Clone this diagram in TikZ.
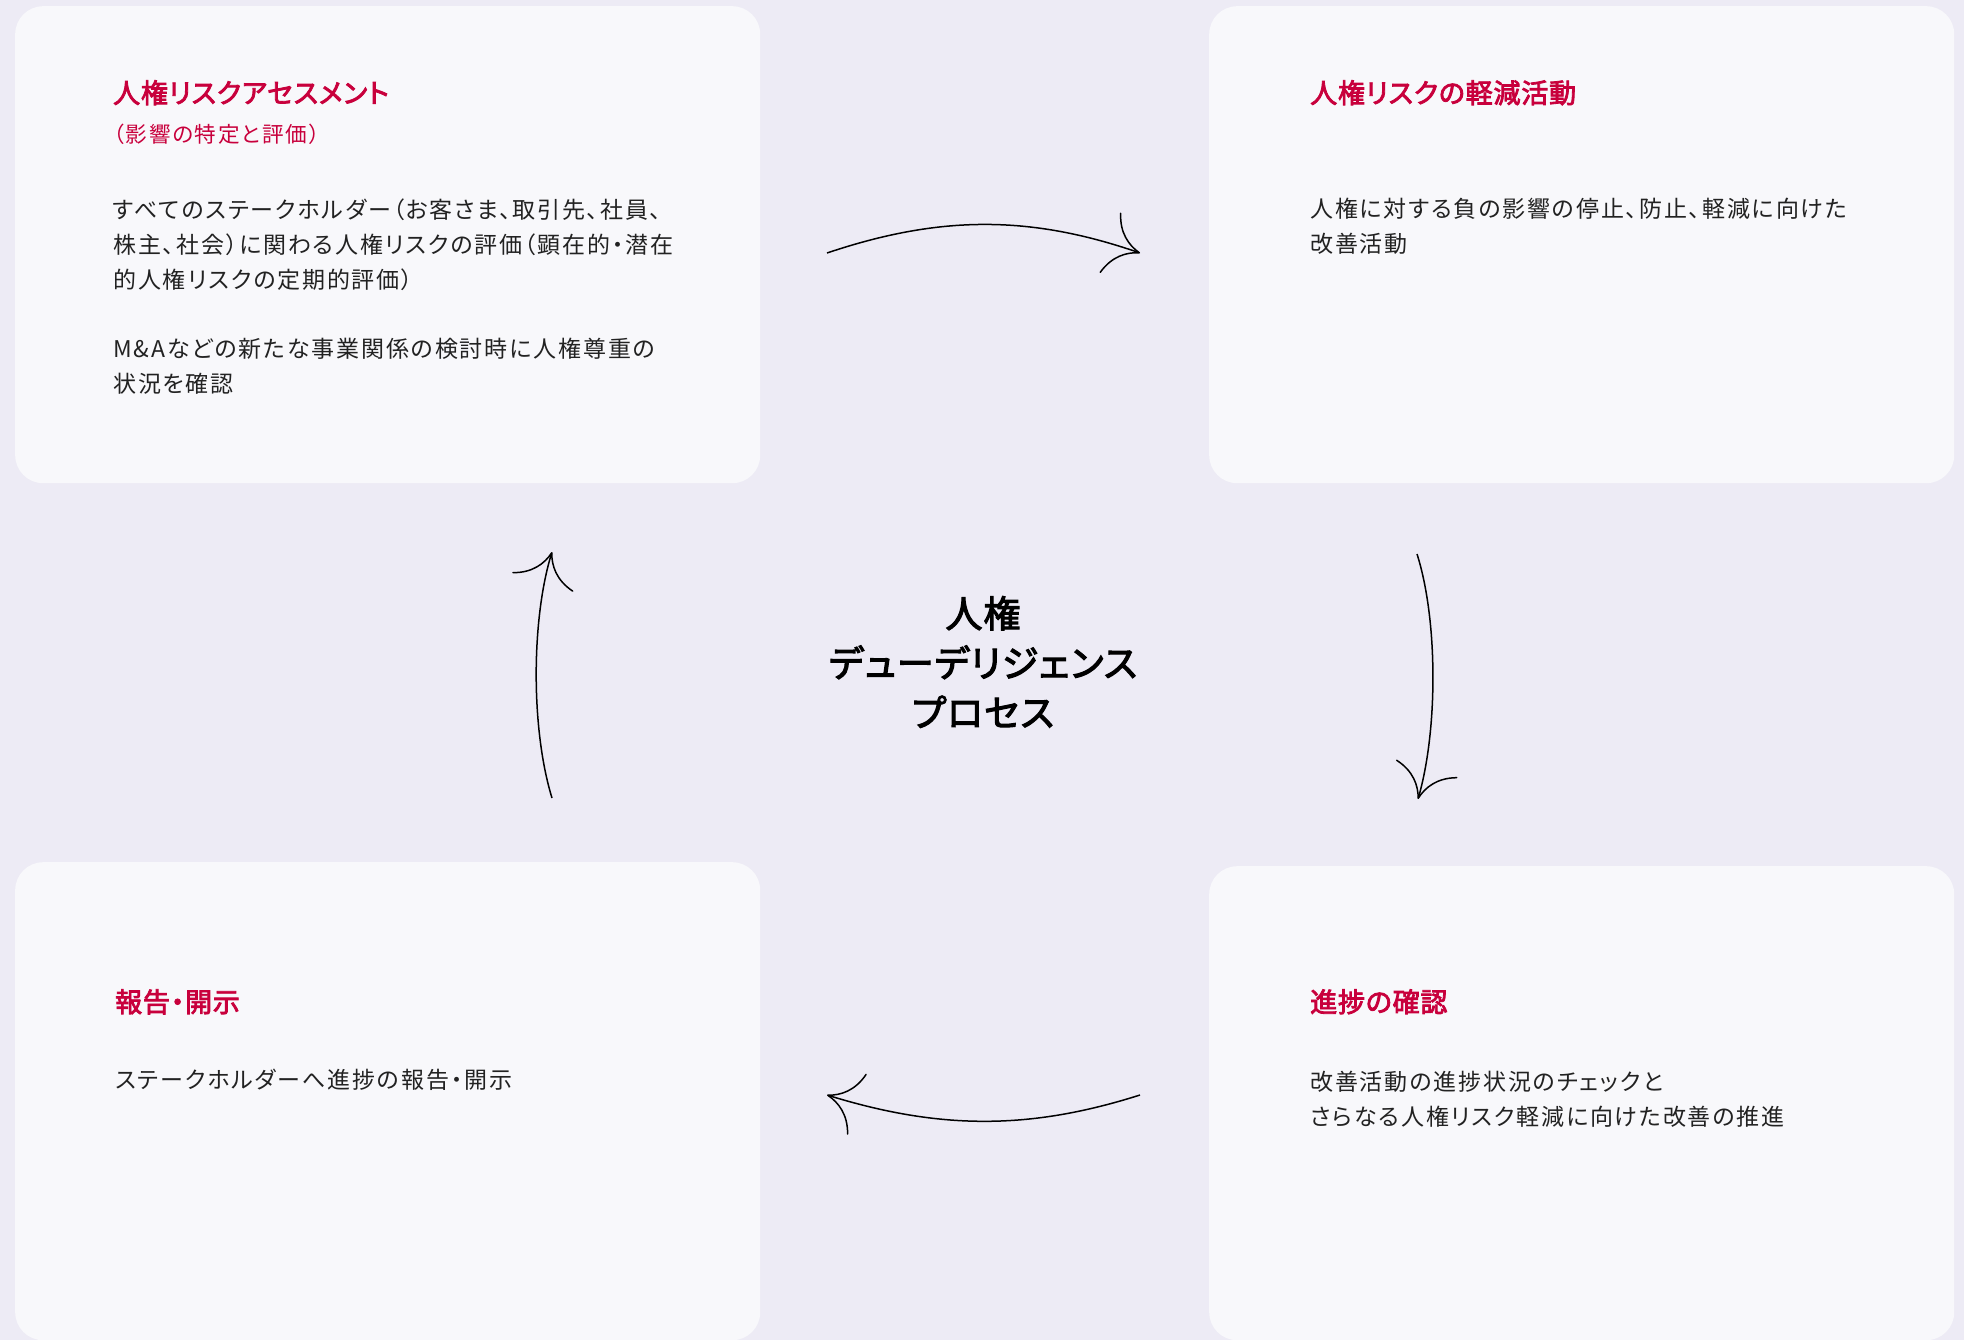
\documentclass[tikz,border=0pt]{standalone}
\usepackage{fontspec}
\usetikzlibrary{arrows.meta}
\setmainfont{Noto Sans CJK JP}[RawFeature=+palt]
\newfontfamily\jpbody{Noto Sans CJK JP}[RawFeature=+palt, LetterSpace=8]
\newfontfamily\jptitle{Noto Sans CJK JP}[RawFeature=+palt, LetterSpace=3, FakeBold=3]
\definecolor{bgc}{HTML}{EDEBF5}
\definecolor{cardc}{HTML}{F8F8FB}
\definecolor{ttlc}{HTML}{C8003C}
\definecolor{txtc}{HTML}{222222}
\tikzset{
  card/.style={fill=cardc, rounded corners=28pt, inner sep=0pt, anchor=north west, minimum width=745pt, minimum height=477pt},
  ttl/.style={text=ttlc, inner sep=0pt, anchor=base west, font={\jptitle\fontsize{27}{34}\selectfont}},
  subttl/.style={text=ttlc, inner sep=0pt, anchor=base west, font={\jpbody\fontsize{21.6}{30}\selectfont}},
  bodytxt/.style={text=txtc, inner sep=0pt, anchor=base west, align=left, font={\jpbody\fontsize{23}{35}\selectfont}},
  centertxt/.style={text=black, inner sep=0pt, align=center, font={\jptitle\fontsize{37}{49.5}\selectfont}},
  arr/.style={line width=1.5pt, -{Computer Modern Rightarrow[length=32pt,width=64pt,line width=1.5pt]}}
}
\begin{document}
\begin{tikzpicture}[x=1pt,y=-1pt]
\fill[bgc] (0,0) rectangle (1964,1340);
\useasboundingbox (0,0) rectangle (1964,1340);
% cards
\node[card] (c1) at (15,6) {};
\node[card] (c2) at (1209,6) {};
\node[card, minimum height=478pt] (c3) at (15,862) {};
\node[card, minimum height=474pt] (c4) at (1209,866) {};
% texts card 1 (base anchor = baseline of last line)
\node[ttl] (t1) at (113,103) {人権リスクアセスメント};
\node[subttl] (s1) at (113,143) {（影響の特定と評価）};
\node[bodytxt] (b1) at (113,288) {すべてのステークホルダー（お客さま、取引先、社員、\\株主、社会）に関わる人権リスクの評価（顕在的・潜在\\的人権リスクの定期的評価）};
\node[bodytxt] (b1b) at (113,392) {M\&Aなどの新たな事業関係の検討時に人権尊重の\\状況を確認};
% card 2
\node[ttl] (t2) at (1310,103) {人権リスクの軽減活動};
\node[bodytxt] (b2) at (1310,253) {人権に対する負の影響の停止、防止、軽減に向けた\\改善活動};
% card 3
\node[ttl] (t3) at (115,1012) {報告・開示};
\node[bodytxt] (b3) at (115,1088) {ステークホルダーへ進捗の報告・開示};
% card 4
\node[ttl] (t4) at (1310,1012) {進捗の確認};
\node[bodytxt] (b4) at (1310,1125) {改善活動の進捗状況のチェックと\\さらなる人権リスク軽減に向けた改善の推進};
% centre
\node[centertxt] (ctr) at (983,662) {人権\\デューデリジェンス\\プロセス};
% arrow end points
\coordinate (a1s) at (827,253);
\coordinate (a1e) at (1140,253);
\coordinate (a2s) at (1417,554);
\coordinate (a2e) at (1418,799);
\coordinate (a3s) at (1140,1095);
\coordinate (a3e) at (827,1095);
\coordinate (a4s) at (552,798);
\coordinate (a4e) at (552,552);
\draw[arr] (a1s) .. controls (940,215) and (1030,215) .. (a1e);
\draw[arr] (a2s) .. controls (1438,620) and (1438,730) .. (a2e);
\draw[arr] (a3s) .. controls (1030,1130) and (940,1130) .. (a3e);
\draw[arr] (a4s) .. controls (531,730) and (531,620) .. (a4e);
\end{tikzpicture}
\end{document}
